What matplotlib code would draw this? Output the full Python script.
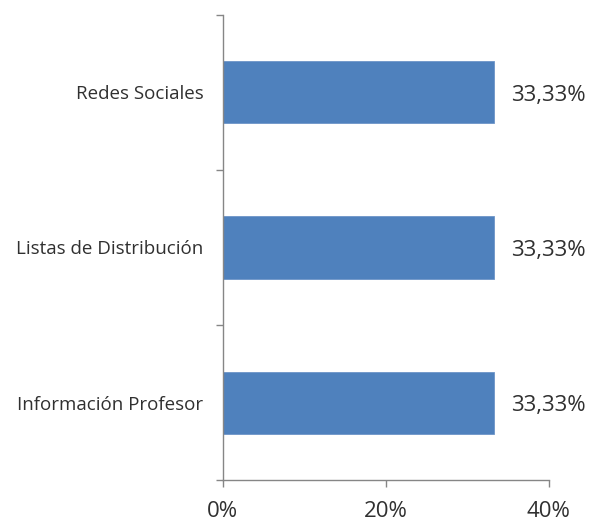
import matplotlib
matplotlib.use("Agg")
import matplotlib.pyplot as plt
from matplotlib.ticker import FuncFormatter

categories = ["Información Profesor", "Listas de Distribución", "Redes Sociales"]
values = [33.33, 33.33, 33.33]
xticks = [0, 20, 40]

plt.rcParams['font.family'] = ['Open Sans', 'DejaVu Sans']

fig = plt.figure(figsize=(6.09, 5.28), dpi=100)
ax = fig.add_axes([0.366, 0.0909, 0.535, 0.8807])

ypos = list(range(len(categories)))
ax.barh(ypos, values, height=0.4, color='#4F81BD', edgecolor='#6d95c8', linewidth=0.6)
ax.set_ylim(-0.5, len(categories) - 0.5)
ax.set_xlim(0, 40)
ax.set_xticks(xticks)
ax.xaxis.set_major_formatter(FuncFormatter(lambda v, p: f"{v:.0f}%"))
ax.set_yticks([y - 0.5 for y in range(len(categories) + 1)], minor=False)
ax.set_yticklabels([])
ax.set_yticks(ypos, minor=True)
ax.set_yticklabels(categories, minor=True)
ax.tick_params(axis='y', which='minor', length=0, pad=14, labelsize=13.5, labelcolor='#303030')
ax.tick_params(axis='y', which='major', length=5, color='#868686', width=1)
ax.tick_params(axis='x', length=5, color='#868686', width=1, pad=10, labelsize=16, labelcolor='#303030')

for s in ['top', 'right']:
    ax.spines[s].set_visible(False)
for s in ['left', 'bottom']:
    ax.spines[s].set_color('#868686')
    ax.spines[s].set_linewidth(1)

for y, v in zip(ypos, values):
    ax.annotate(f"{v:.2f}%".replace('.', ','), xy=(v, y), xytext=(12, -2),
                textcoords='offset points', va='center', ha='left',
                fontsize=16, color='#303030')

fig.savefig("out.png", dpi=100)
